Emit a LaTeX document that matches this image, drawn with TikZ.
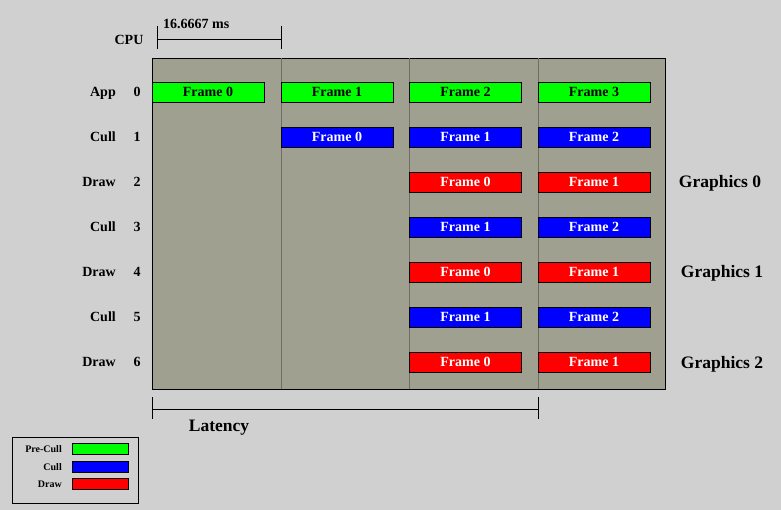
\documentclass[tikz,border=0pt]{standalone}
\usepackage{fontspec}
\setmainfont{Liberation Serif}
\definecolor{fondo}{HTML}{D0D0D0}
\definecolor{panelgris}{HTML}{A0A090}
\definecolor{lineagris}{HTML}{6E6E62}
\definecolor{verde}{HTML}{00FF00}
\definecolor{azul}{HTML}{0000FF}
\definecolor{rojo}{HTML}{FF0000}
\tikzset{
  framebox/.style={draw=black, minimum width=112pt, minimum height=20pt, inner sep=0pt,
    text height=9.5pt, text depth=0pt, font=\bfseries\fontsize{14}{14}\selectfont},
  precullbox/.style={framebox, fill=verde, text=black},
  cullbox/.style={framebox, fill=azul, text=white},
  drawbox/.style={framebox, fill=rojo, text=white},
  rowlabel/.style={inner sep=0pt, text height=9.5pt, text depth=0pt,
    font=\bfseries\fontsize{14}{14}\selectfont},
  pipelabel/.style={inner sep=0pt, text height=12pt, text depth=0pt,
    font=\bfseries\fontsize{17.5}{17.5}\selectfont},
  keybox/.style={draw=black, minimum width=56pt, minimum height=11pt, inner sep=0pt, anchor=west},
  keylabel/.style={inner sep=0pt, anchor=east, text height=7pt, text depth=0pt,
    font=\bfseries\fontsize{10}{10}\selectfont}
}
\begin{document}
\begin{tikzpicture}[x=1pt,y=-1pt]
                \fill[fondo] (0,0) rectangle (781,510); % fondo
                \draw[fill=panelgris] (152,58) rectangle (665,389); % panel
                \foreach \x in {281,409,538}
                \draw[lineagris] (\x,58) -- (\x,389);
                % escala CPU
                \node[rowlabel] (cpu) at (129,40) {CPU};
                \coordinate (cpuA) at (157,39);
                \coordinate (cpuB) at (281,39);
                \draw (cpuA) -- (cpuB);
                \foreach \x in {157,281}
                \draw (\x,26) -- (\x,49);
                \node[rowlabel, anchor=west] (ms) at (163,24) {16.6667 ms};
                % filas
                \foreach \n/\y/\t in {0/92/App,1/137/Cull,2/182/Draw,3/227/Cull,4/272/Draw,5/317/Cull,6/362/Draw}
                {
                \node[rowlabel, anchor=east] (lbl\n) at (116,\y) {\t};
                \node[rowlabel] (num\n) at (137,\y) {\n};
                }
                % cuadros
                \foreach \c/\x in {0/208,1/337,2/465.5,3/594}
                \node[precullbox] (app\c) at (\x,92) {Frame \c};
                \node[cullbox] (cullA1) at (337,137) {Frame 0};
                \foreach \r/\y/\s/\f in {1/137/cullbox/1,2/182/drawbox/0,3/227/cullbox/1,4/272/drawbox/0,5/317/cullbox/1,6/362/drawbox/0}
                \node[\s] (c2r\r) at (465.5,\y) {Frame \f};
                \foreach \r/\y/\s/\f in {1/137/cullbox/2,2/182/drawbox/1,3/227/cullbox/2,4/272/drawbox/1,5/317/cullbox/2,6/362/drawbox/1}
                \node[\s] (c3r\r) at (594,\y) {Frame \f};
                % pipes
                \node[pipelabel] (g0) at (720,182) {Graphics 0};
                \node[pipelabel] (g1) at (722,272) {Graphics 1};
                \node[pipelabel] (g2) at (722,362) {Graphics 2};
                % latencia
                \coordinate (latA) at (152,409);
                \coordinate (latB) at (538,409);
                \draw (latA) -- (latB);
                \foreach \x in {152,538}
                \draw (\x,397) -- (\x,419);
                \node[pipelabel] (lat) at (219,425) {Latency};
                % leyenda
                \draw (12,437) rectangle (138,503);
                \node[keybox, fill=verde] (kpre) at (72,449) {};
                \node[keybox, fill=azul] (kcull) at (72,466.5) {};
                \node[keybox, fill=rojo] (kdraw) at (72,483.5) {};
                \node[keylabel] (tpre) at (62,449) {Pre-Cull};
                \node[keylabel] (tcull) at (62,466.5) {Cull};
                \node[keylabel] (tdraw) at (62,483.5) {Draw};
\end{tikzpicture}
\end{document}
